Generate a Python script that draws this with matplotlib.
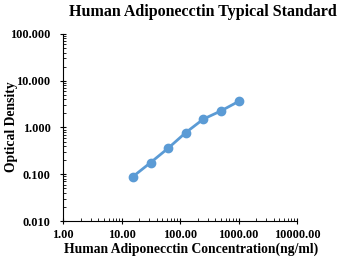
import matplotlib
matplotlib.use("Agg")
import matplotlib.pyplot as plt
from matplotlib.ticker import LogLocator, FixedLocator, NullFormatter

conc = [15.625, 31.25, 62.5, 125, 250, 500, 1000]
od = [0.089, 0.177, 0.36, 0.776, 1.51, 2.26, 3.6]
xticks = [1, 10, 100, 1000, 10000]
xticklabels = ["1.00", "10.00", "100.00", "1000.00", "10000.00"]
yticks = [0.01, 0.1, 1, 10, 100]
yticklabels = ["0.010", "0.100", "1.000", "10.000", "100.000"]

plt.rcParams['font.family'] = ['Liberation Serif', 'DejaVu Serif']
plt.rcParams['font.weight'] = 'bold'

fig = plt.figure(figsize=(3.43, 2.65), dpi=100)
ax = fig.add_axes([0.184, 0.166, 0.682, 0.706])
ax.plot(conc, od, color='#5B9BD5', lw=2, marker='o', ms=6)
ax.set_xscale('log')
ax.set_yscale('log')
ax.set_xlim(1, 10000)
ax.set_ylim(0.01, 100)
ax.xaxis.set_major_locator(FixedLocator(xticks))
ax.set_xticklabels(xticklabels, fontsize=8.8, fontweight='bold')
ax.yaxis.set_major_locator(FixedLocator(yticks))
ax.set_yticklabels(yticklabels, fontsize=8.8, fontweight='bold')
ax.xaxis.set_minor_locator(LogLocator(base=10, subs=range(2, 10)))
ax.yaxis.set_minor_locator(LogLocator(base=10, subs=range(2, 10)))
ax.xaxis.set_minor_formatter(NullFormatter())
ax.yaxis.set_minor_formatter(NullFormatter())
ax.tick_params(which='major', direction='inout', length=5, width=0.8)
ax.tick_params(axis='y', which='major', pad=6.5)
ax.tick_params(axis='x', which='major', pad=3)
ax.tick_params(which='minor', direction='in', length=2.5, width=0.6)
for s in ['top', 'right']:
    ax.spines[s].set_visible(False)

fig.text(203/343, 1-12/265, "Human Adiponecctin Typical Standard", ha='center', va='center',
         fontsize=11.5, fontweight='bold')
fig.text(191/343, 1-249/265, "Human Adiponecctin Concentration(ng/ml)", ha='center', va='center',
         fontsize=9.8, fontweight='bold')
fig.text(12/343, 1-127/265, "Optical Density", ha='center', va='center', rotation=90,
         fontsize=9.8, fontweight='bold')

fig.savefig("out.png", dpi=100)
